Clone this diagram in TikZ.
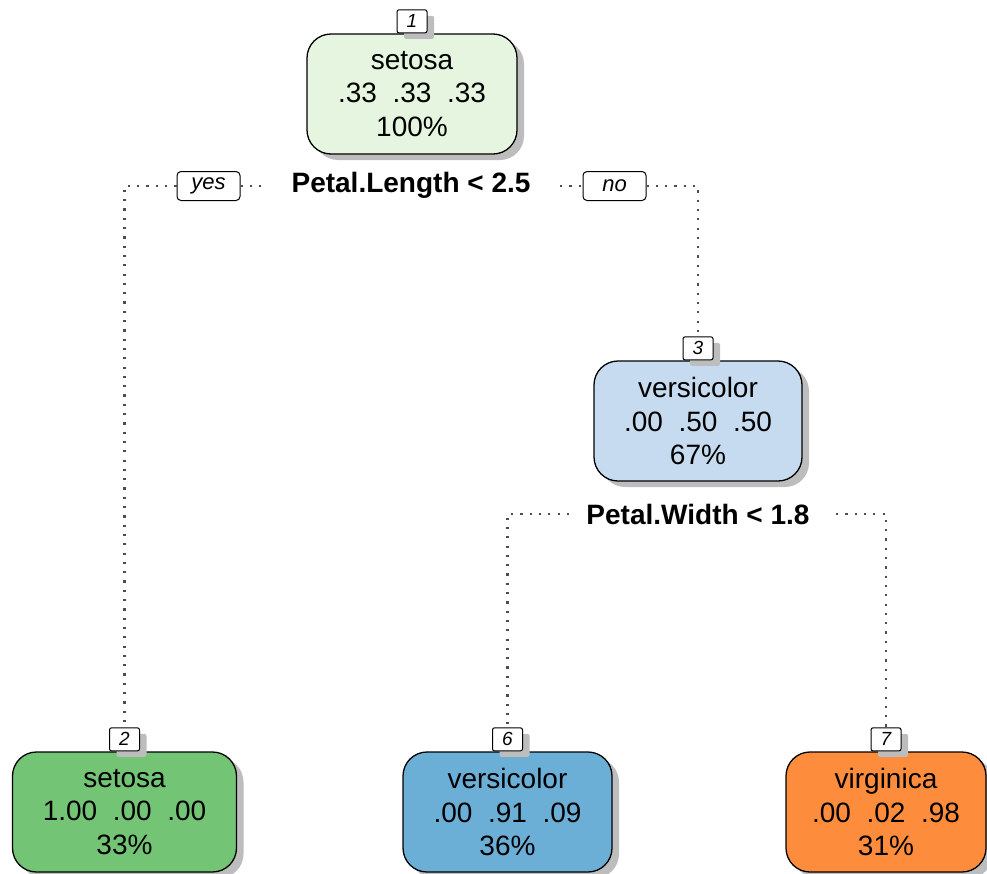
\documentclass[tikz,border=0pt]{standalone}
\usepackage{fontspec}
\setmainfont{Liberation Sans}
\usetikzlibrary{shadows}
\definecolor{rootfill}{HTML}{E5F5E0}
\definecolor{midfill}{HTML}{C6DBEF}
\definecolor{setosafill}{HTML}{74C476}
\definecolor{versifill}{HTML}{6BAED6}
\definecolor{virgfill}{HTML}{FD8D3C}
\definecolor{shadowgray}{gray}{0.74}
\begin{document}
\begin{tikzpicture}[x=1pt,y=-1pt,
  softshadow/.style={drop shadow={shadow xshift=7pt, shadow yshift=-6pt,
      fill=shadowgray, opacity=1}},
  treenode/.style={draw=black, line width=1.3pt, rounded corners=24pt,
      align=center, inner sep=0pt, minimum height=120pt,
      font=\fontsize{28}{33.5}\selectfont, softshadow},
  numtag/.style={draw=black, fill=white, line width=1pt, rounded corners=2pt,
      minimum width=30pt, minimum height=23pt, inner sep=0pt,
      font=\fontsize{19}{19}\selectfont\itshape, softshadow},
  yesno/.style={draw=black, fill=white, line width=1pt, rounded corners=4pt,
      minimum width=63pt, minimum height=29pt, inner sep=0pt,
      font=\fontsize{22}{22}\selectfont\itshape},
  splitlabel/.style={inner sep=0pt, font=\fontsize{28}{28}\selectfont\bfseries},
  dotline/.style={draw=black!70, line width=2.2pt,
      dash pattern=on 2.2pt off 7.1pt}
]
\useasboundingbox (0,0) rectangle (987,873);
\clip (0,0) rectangle (987,873);

% tree nodes
\node[treenode, fill=rootfill, minimum width=210pt] (n1) at (412,94)
  {setosa\\.33\ \ .33\ \ .33\\100\%};
\node[numtag, anchor=south] (t1) at (n1.north) {1};

\node[treenode, fill=midfill, minimum width=208pt] (n3) at (698,421)
  {versicolor\\.00\ \ .50\ \ .50\\67\%};
\node[numtag, anchor=south] (t3) at (n3.north) {3};

\node[treenode, fill=setosafill, minimum width=224pt] (n2) at (124.5,812)
  {setosa\\1.00\ \ .00\ \ .00\\33\%};
\node[numtag, anchor=south] (t2) at (n2.north) {2};

\node[treenode, fill=versifill, minimum width=209pt] (n6) at (507.5,812)
  {versicolor\\.00\ \ .91\ \ .09\\36\%};
\node[numtag, anchor=south] (t6) at (n6.north) {6};

\node[treenode, fill=virgfill, minimum width=200pt] (n7) at (886,812)
  {virginica\\.00\ \ .02\ \ .98\\31\%};
\node[numtag, anchor=south] (t7) at (n7.north) {7};

% split labels
\node[splitlabel] (s1) at (411,185) {Petal.Length < 2.5};
\node[yesno] (yes) at (208.5,186) {yes};
\node[yesno] (no) at (614.5,186) {no};
\node[splitlabel] (s2) at (698,514) {Petal.Width < 1.8};

% free ends of the short dotted stubs
\coordinate (s1l) at (262,186);
\coordinate (s1r) at (560,186);
\coordinate (s2l) at (569,514);
\coordinate (s2r) at (836,514);

% connectors
\draw[dotline] (yes.west) -| (t2.north);
\draw[dotline] (yes.east) -- (s1l);
\draw[dotline] (s1r) -- (no.west);
\draw[dotline] (no.east) -| (t3.north);
\draw[dotline] (s2l) -| (t6.north);
\draw[dotline] (s2r) -| (t7.north);
\end{tikzpicture}
\end{document}
